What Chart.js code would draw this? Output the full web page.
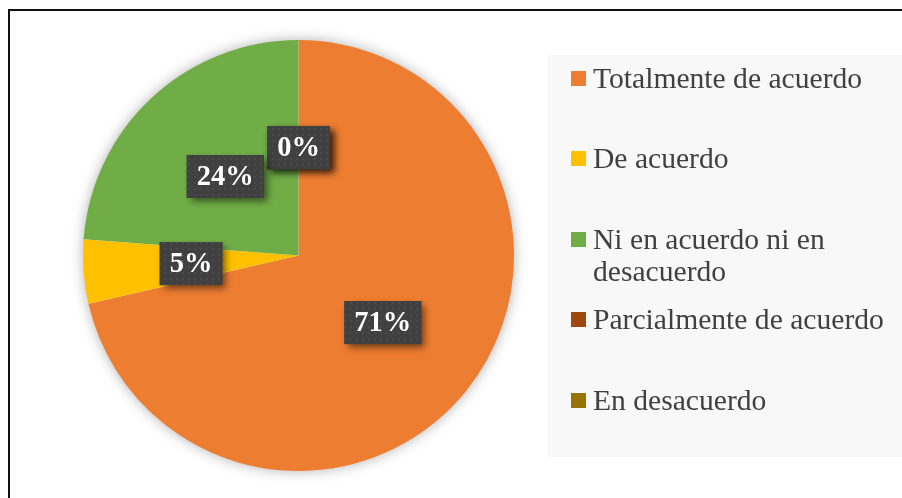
<!DOCTYPE html>
<html>
<head>
<meta charset="utf-8">
<script src="https://cdn.jsdelivr.net/npm/chart.js@4/dist/chart.umd.min.js"></script>
<style>
  html, body { margin: 0; padding: 0; background: #fff; }
  #wrap { position: relative; width: 902px; height: 498px; overflow: hidden; background: #fff; }
  #frame { position: absolute; left: 8px; top: 9px; width: 940px; height: 540px;
           border-left: 2px solid #111; border-top: 2px solid #111; box-sizing: border-box; }
  #legendBox { position: absolute; left: 547px; top: 55px; width: 380px; height: 402px; background: #f8f8f8; }
  canvas { position: absolute; left: 0; top: 0; }
  .li { position: absolute; left: 571px; font-family: "Liberation Serif", "Times New Roman", serif;
        font-size: 29.6px; line-height: 32.5px; color: #404040; }
  .sw { position: absolute; left: 0; top: 9px; width: 15px; height: 15px; }
  .tx { position: absolute; left: 22px; top: 0; width: 300px; white-space: normal; }
</style>
</head>
<body>
<div id="wrap">
  <div id="legendBox"></div>
  <canvas id="c" width="902" height="498"></canvas>
  <div id="frame"></div>
  <div id="legend"></div>
</div>
<script>
const categories = ["Totalmente de acuerdo", "De acuerdo", "Ni en acuerdo ni en desacuerdo", "Parcialmente de acuerdo", "En desacuerdo"];
const percentages = [71.4, 4.8, 23.8, 0, 0];
const colors = ["#ED7D31", "#FFC000", "#70AD47", "#9E480E", "#997300"];

// HTML legend built from the arrays
const legendEl = document.getElementById('legend');
categories.forEach((cat, i) => {
  const d = document.createElement('div');
  d.className = 'li';
  d.style.top = (78 + 80.5 * i - 16.25) + 'px';
  const sw = document.createElement('div');
  sw.className = 'sw';
  sw.style.background = colors[i];
  const tx = document.createElement('div');
  tx.className = 'tx';
  tx.textContent = cat;
  d.appendChild(sw); d.appendChild(tx);
  legendEl.appendChild(d);
});

// dotted pattern for label boxes
function makePattern(ctx) {
  const pc = document.createElement('canvas');
  pc.width = 6; pc.height = 6;
  const p = pc.getContext('2d');
  p.fillStyle = '#404040'; p.fillRect(0, 0, 6, 6);
  p.fillStyle = '#4b4b4b'; p.fillRect(2, 2, 2, 2);
  return ctx.createPattern(pc, 'repeat');
}

const pieShadow = {
  id: 'pieShadow',
  beforeDatasetsDraw(chart) {
    const arc = chart.getDatasetMeta(0).data[0];
    if (!arc) return;
    const ctx = chart.ctx;
    ctx.save();
    ctx.shadowColor = 'rgba(0,0,0,0.35)';
    ctx.shadowBlur = 14;
    ctx.fillStyle = '#ffffff';
    ctx.beginPath();
    ctx.arc(arc.x, arc.y, arc.outerRadius - 1, 0, Math.PI * 2);
    ctx.fill();
    ctx.restore();
  }
};

const boxLabels = {
  id: 'boxLabels',
  afterDatasetsDraw(chart) {
    const ctx = chart.ctx;
    const meta = chart.getDatasetMeta(0);
    const pattern = makePattern(ctx);
    ctx.save();
    ctx.font = 'bold 28.5px "Liberation Serif", "Times New Roman", serif';
    ctx.textAlign = 'center';
    ctx.textBaseline = 'middle';
    const order = meta.data.map((_, i) => i).sort((a, b) => (percentages[a] > 0) - (percentages[b] > 0));
    order.forEach(i => {
      const el = meta.data[i];
      const pos = el.tooltipPosition();
      const txt = Math.round(percentages[i]) + '%';
      const tw = ctx.measureText(txt).width;
      const w = tw + 20, h = 43;
      const x = pos.x - w / 2, y = pos.y - h / 2;
      ctx.save();
      ctx.shadowColor = 'rgba(0,0,0,0.5)';
      ctx.shadowBlur = 7;
      ctx.shadowOffsetX = 4;
      ctx.shadowOffsetY = 4;
      ctx.fillStyle = '#404040';
      ctx.fillRect(x, y, w, h);
      ctx.restore();
      ctx.fillStyle = pattern;
      ctx.fillRect(x, y, w, h);
      ctx.fillStyle = '#ffffff';
      ctx.fillText(txt, pos.x, pos.y + 1);
    });
    ctx.restore();
  }
};

new Chart(document.getElementById('c'), {
  type: 'pie',
  data: {
    labels: categories,
    datasets: [{
      data: percentages,
      backgroundColor: colors,
      borderWidth: 0
    }]
  },
  options: {
    responsive: false,
    animation: false,
    layout: { padding: { left: 83, right: 388, top: 40, bottom: 27 } },
    plugins: {
      legend: { display: false },
      tooltip: { enabled: false }
    }
  },
  plugins: [pieShadow, boxLabels]
});
</script>
</body>
</html>
